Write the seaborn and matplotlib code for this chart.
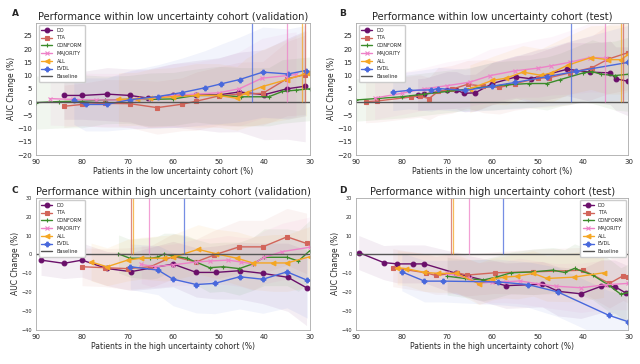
import matplotlib
matplotlib.use('Agg')
import matplotlib.pyplot as plt
import numpy as np
import seaborn as sns

methods = ['DO', 'TTA', 'CONFORM', 'MAJORITY', 'ALL', 'EVDL']
colors = {'DO': '#6a0f6a', 'TTA': '#d2655a', 'CONFORM': '#3b8b2a',
          'MAJORITY': '#ee82c8', 'ALL': '#f5a623', 'EVDL': '#4868dc'}
markers = {'DO': 'o', 'TTA': 's', 'CONFORM': '+', 'MAJORITY': 'x', 'ALL': '<', 'EVDL': 'P'}

# panel A: low uncertainty cohort (validation)
A_X = {'DO': [84, 80, 74.5, 69.5, 65.5, 60, 55, 50, 45.5, 40, 35, 31],
       'TTA': [84, 80, 75, 69.5, 63.5, 58, 55, 50, 45.5, 40.3, 35, 31],
       'CONFORM': [90, 85, 80, 75, 70, 65, 60, 55, 50, 45, 39, 36, 33, 30],
       'MAJORITY': [87, 82, 77, 72, 68, 65, 60, 55, 50, 45.5, 40.5, 35, 33],
       'ALL': [72, 68, 65, 60, 55, 50, 46, 44, 40.5, 35, 30.7],
       'EVDL': [81.8, 79.2, 74.6, 69.4, 63.3, 58, 53, 49.4, 45.4, 40.3, 34.8, 30.9]}
A_Y = {'DO': [2.5, 2.5, 3, 2.5, 1.5, 2.5, 2.7, 2.7, 3.8, 2.8, 5, 6],
       'TTA': [-1.6, -0.9, -0.5, -0.6, -2.1, -0.8, 0.3, 2.3, 3, 3.3, 8.8, 10.3],
       'CONFORM': [-0.2, 0.2, 0.3, 0.8, 1, 1, 1.2, 2.5, 2.5, 2, 2, 4, 4.5, 5],
       'MAJORITY': [1.3, 1, 0.8, 0.8, 1, 1.3, 2.5, 3, 3.5, 5, 9, 10, 10.5],
       'ALL': [1, 1.2, 1.5, 2, 2.5, 2.5, 1.4, 3.5, 5.8, 8.5, 10.8],
       'EVDL': [0.6, -0.9, -0.9, 0.9, 2.1, 3.6, 5.4, 6.9, 8.5, 11.3, 10.6, 11.9]}
A_CI = {'DO': [9, 9, 10, 10, 11, 12, 13, 14, 15, 17, 19, 21],
        'TTA': [8, 8, 9, 9, 10, 10, 11, 11, 12, 12, 14, 15],
        'CONFORM': [10, 10, 10, 9, 9, 10, 10, 10, 11, 11, 11, 12, 12, 12],
        'MAJORITY': [10, 10, 10, 10, 11, 11, 12, 12, 13, 14, 15, 16, 16],
        'ALL': [10, 10, 11, 11, 12, 12, 12, 13, 14, 15, 16],
        'EVDL': [9, 10, 10, 11, 12, 13, 14, 15, 16, 17, 17, 17]}
A_VL = {'EVDL': 42.7, 'MAJORITY': 35.1, 'ALL': 31.6, 'TTA': 31.1}

# panel B: low uncertainty cohort (test)
B_X = {'DO': [76.5, 75, 70, 68, 66.2, 63.8, 60, 54.8, 51.5, 43.5, 38.5, 34, 32.8, 30],
       'TTA': [88, 85.5, 78, 76, 74, 72, 69, 65.5, 62, 58.5, 55, 50, 47.5, 43, 38, 34.5, 30],
       'CONFORM': [90, 85, 80, 75, 70, 65, 60, 57, 52, 48, 45, 40, 38, 36, 33, 30],
       'MAJORITY': [86, 80, 75, 70, 65, 60.5, 55, 50, 47, 43, 38.5, 35],
       'ALL': [65, 60, 57, 53.3, 49.3, 47, 43.4, 38.3, 34.6, 31.7, 30],
       'EVDL': [82, 78.5, 73.5, 72, 66, 60, 55, 48, 41.5, 30]}
B_Y = {'DO': [2.8, 3, 4.5, 4.5, 3.3, 3.5, 7, 9.5, 8.8, 12.4, 11.3, 11, 8.8, 7.8],
       'TTA': [0.2, 0.4, 1.9, 2.3, 1.3, 4, 4.8, 6.7, 6, 5.5, 7, 9, 9.2, 11, 13, 16.2, 18.7],
       'CONFORM': [0.8, 1.4, 2, 3, 4, 5, 6, 6.5, 7, 7, 8.5, 11, 11.5, 10.5, 10, 10.5],
       'MAJORITY': [1.5, 3.3, 5, 6.2, 7.5, 10, 11.8, 12.8, 13.7, 15, 16.8, 16.6],
       'ALL': [5, 8.2, 9, 11.3, 10.1, 11, 13.9, 16.8, 16, 16, 18],
       'EVDL': [3.8, 4.4, 4.6, 5.1, 4.4, 6, 7.4, 9.6, 11.6, 15]}
B_CI = {'DO': [6, 6, 7, 7, 7, 7, 8, 8, 9, 10, 11, 12, 12, 13],
        'TTA': [8, 8, 8, 8, 8, 9, 9, 9, 10, 10, 10, 11, 11, 12, 12, 13, 14],
        'CONFORM': [8, 8, 8, 8, 8, 8, 9, 9, 9, 10, 10, 11, 12, 12, 13, 14],
        'MAJORITY': [8, 8, 8, 9, 9, 10, 10, 11, 11, 12, 13, 13],
        'ALL': [9, 9, 10, 10, 10, 11, 11, 12, 13, 13, 14],
        'EVDL': [7, 7, 8, 8, 8, 9, 10, 11, 12, 14]}
B_VL = {'EVDL': 42.7, 'MAJORITY': 35.1, 'ALL': 31.7, 'TTA': 31.2}

# panel C: high uncertainty cohort (validation)
C_X = {'DO': [89, 84, 80, 74.6, 69.3, 60, 54.9, 50.6, 45.4, 40.3, 34.8, 30.7],
       'TTA': [80, 75, 70, 65, 60, 55, 51, 45.5, 40.3, 35, 30.7],
       'CONFORM': [72, 69.5, 65, 63.5, 62, 60, 57, 55, 52, 49, 45.5, 42.5, 40, 35, 32.5, 30],
       'MAJORITY': [67, 64, 60, 55, 52, 48, 45, 42.5, 40, 36, 30],
       'ALL': [78, 74.5, 70, 67, 62, 60, 54.5, 50.5, 46, 42.5, 38, 35, 30],
       'EVDL': [69.4, 63.3, 60, 54.9, 50.9, 45.4, 40.3, 35, 30.5]}
C_Y = {'DO': [-3, -4.7, -3, -7.4, -9.1, -5.1, -9.5, -9.5, -8.6, -10, -12.1, -17.6],
       'TTA': [-6.5, -7, -7.5, -6.5, -1, -4, -0.3, 4, 4, 9.3, 5.8],
       'CONFORM': [0.3, -2, -2, -1.5, 0.2, -0.8, -2, -4, -7, -6.5, -7.5, -5, -1.5, -1.5, -3.5, 2],
       'MAJORITY': [-5.3, -6.5, -5.5, -4, -3.5, -3, -4, -5, -1.5, 1.5, 3.8],
       'ALL': [-4, -6.5, -3, -2, -2, -1.5, 2.7, 0.3, -2, -4.5, -4.5, -4.5, -1.2],
       'EVDL': [-6.5, -8.3, -13.1, -15.9, -15.3, -11.8, -13.1, -9.2, -13.7]}
C_CI = {'DO': [8, 8, 9, 9, 10, 12, 13, 14, 15, 16, 18, 20],
        'TTA': [10, 10, 11, 11, 12, 12, 13, 14, 14, 15, 16],
        'CONFORM': [10, 10, 11, 11, 11, 12, 12, 12, 13, 13, 14, 14, 15, 15, 16, 16],
        'MAJORITY': [10, 11, 11, 12, 12, 13, 13, 14, 14, 15, 16],
        'ALL': [10, 10, 11, 11, 12, 12, 13, 13, 14, 14, 15, 15, 16],
        'EVDL': [12, 13, 14, 15, 16, 17, 18, 19, 20]}
C_VL = {'TTA': 69.3, 'ALL': 68.9, 'MAJORITY': 65.2, 'EVDL': 57.6}

# panel D: high uncertainty cohort (test)
D_X = {'DO': [89.5, 84, 81, 77.5, 75, 68, 65.5, 57, 49, 45.5, 40.5, 36, 33, 30.5],
       'TTA': [82, 74.7, 72.5, 67.8, 65.6, 59.5, 51, 40, 34.2, 31.2, 30],
       'CONFORM': [70, 66, 62, 59.2, 55.9, 51, 46.7, 44.1, 41.9, 37.9, 34.4, 31.7, 30],
       'MAJORITY': [70, 65, 63, 60, 57, 54, 50, 46, 40.5, 35, 30],
       'ALL': [81, 79, 75, 72, 68, 63, 60, 57.5, 54.5, 51, 48, 42, 35.5],
       'EVDL': [80, 75, 71, 58.8, 52.2, 45.6, 34.4, 30]}
D_Y = {'DO': [1, -4.3, -5, -5, -5, -10, -11.5, -16.5, -15.7, -19.5, -20.8, -16.8, -17, -20.5],
       'TTA': [-7, -9.7, -11.1, -9.7, -10.9, -9.7, -9.2, -8.3, -15.3, -11.3, -11.8],
       'CONFORM': [-11.5, -12.7, -13.5, -12, -9.7, -9.2, -8.3, -9.5, -7.4, -10.9, -16.2, -21, -20.1],
       'MAJORITY': [-10, -12.7, -15.3, -14.5, -14.5, -14, -15.5, -16.8, -17.6, -16, -15.3],
       'ALL': [-7, -7.5, -9.5, -10, -10, -15.5, -13, -12, -11.5, -10, -12.7, -12, -9.7],
       'EVDL': [-9.2, -14.1, -14.1, -14.5, -15.9, -19.8, -32.1, -35.6]}
D_CI = {'DO': [9, 9, 10, 10, 10, 11, 11, 12, 12, 13, 13, 14, 14, 15],
        'TTA': [10, 10, 10, 11, 11, 11, 12, 12, 13, 13, 14],
        'CONFORM': [10, 10, 11, 11, 11, 12, 12, 12, 13, 13, 14, 14, 15],
        'MAJORITY': [10, 10, 11, 11, 11, 12, 12, 12, 13, 13, 14],
        'ALL': [9, 9, 10, 10, 10, 11, 11, 11, 12, 12, 12, 13, 13],
        'EVDL': [10, 11, 11, 12, 12, 13, 13, 14]}
D_VL = {'TTA': 69.2, 'ALL': 68.7, 'MAJORITY': 65.2, 'EVDL': 57.6}

panels = [
    ('A', 'Performance within low uncertainty cohort (validation)', 'low', A_X, A_Y, A_CI, A_VL),
    ('B', 'Performance within low uncertainty cohort (test)', 'low', B_X, B_Y, B_CI, B_VL),
    ('C', 'Performance within high uncertainty cohort (validation)', 'high', C_X, C_Y, C_CI, C_VL),
    ('D', 'Performance within high uncertainty cohort (test)', 'high', D_X, D_Y, D_CI, D_VL),
]

sns.set_style('white')
plt.rcParams['font.family'] = ['DejaVu Sans']

fig = plt.figure(figsize=(6.4, 3.64), dpi=100)
pos = {'A': [0.057, 0.574, 0.427, 0.364], 'B': [0.557, 0.574, 0.425, 0.364],
       'C': [0.057, 0.093, 0.427, 0.364], 'D': [0.557, 0.093, 0.425, 0.364]}
letter_pos = {'A': (0.018, 0.955), 'B': (0.53, 0.955), 'C': (0.018, 0.47), 'D': (0.53, 0.47)}

for letter, title, cohort, X, Y, CI, VL in panels:
    ax = fig.add_axes(pos[letter])
    for m in methods:
        x = np.array(X[m]); y = np.array(Y[m]); ci = np.array(CI[m])
        ax.fill_between(x, y - ci, y + ci, color=colors[m], alpha=0.07, lw=0)
        sns.lineplot(x=x, y=y, ax=ax, color=colors[m], marker=markers[m], label=m,
                     lw=1, markersize=3.4 if m != 'CONFORM' else 3.5,
                     markeredgewidth=0.8, markeredgecolor=colors[m], sort=False)
    ax.axhline(0, color='#555555', lw=1, label='Baseline')
    if cohort == 'low':
        ax.set_ylim(-20, 30)
        ax.set_yticks(range(-20, 30, 5))
        tick_fs = 5
    else:
        ax.set_ylim(-40, 30)
        ax.set_yticks(range(-40, 31, 10))
        tick_fs = 3.6
    top = ax.get_ylim()[1]
    for m, xv in VL.items():
        ax.vlines(xv, 0, top, color=colors[m], lw=0.9, alpha=0.75)
    ax.set_xlim(90, 30)
    ax.set_xticks([90, 80, 70, 60, 50, 40, 30])
    ax.tick_params(axis='x', labelsize=5, length=2, pad=1)
    ax.tick_params(axis='y', labelsize=tick_fs, length=2, pad=1)
    ax.set_title(title, fontsize=7.1, pad=2)
    ax.set_xlabel(f'Patients in the {cohort} uncertainty cohort (%)', fontsize=5.5, labelpad=1)
    ax.set_ylabel('AUC Change (%)', fontsize=5.5, labelpad=1)
    for s in ax.spines.values():
        s.set_color('#aaaaaa')
        s.set_linewidth(0.6)
    loc = 'upper right' if letter == 'D' else 'upper left'
    ax.legend(loc=loc, fontsize=3.6, frameon=True, handlelength=2.2,
              labelspacing=0.55, borderpad=0.5, framealpha=1, edgecolor='#cccccc')
    fig.text(*letter_pos[letter], letter, fontsize=6.5, fontweight='bold')

fig.savefig('out.png', dpi=100)
